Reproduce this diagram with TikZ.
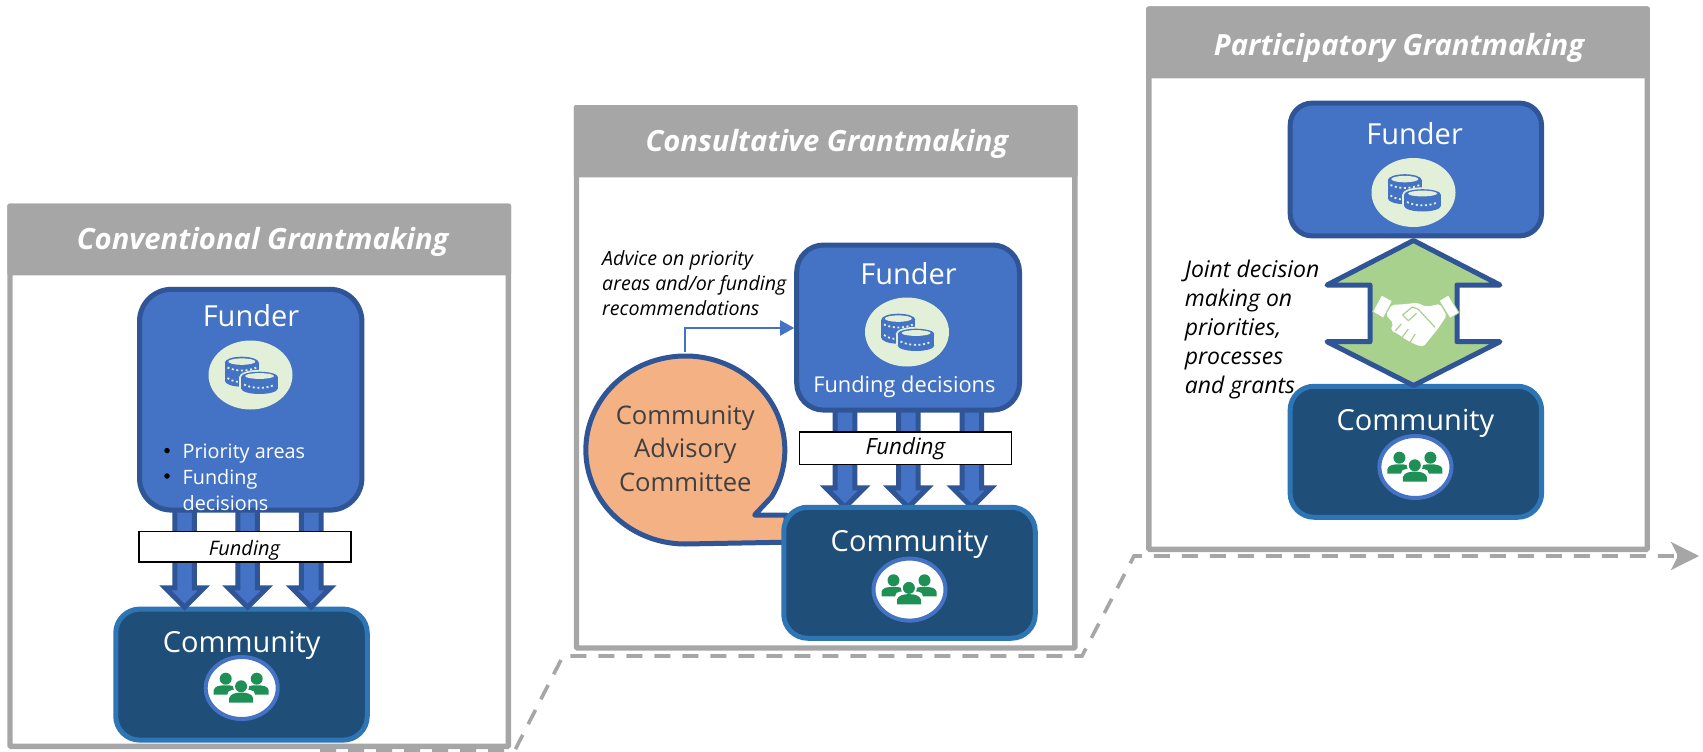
\documentclass[tikz,border=0pt]{standalone}
\usepackage{fontspec}
\setmainfont{Open Sans}
\usetikzlibrary{shapes.geometric, arrows.meta}
\usetikzlibrary{positioning}
\definecolor{framegray}{HTML}{A6A6A6}
\definecolor{funderblue}{HTML}{4472C4}
\definecolor{funderedge}{HTML}{2F5597}
\definecolor{commblue}{HTML}{1F4E79}
\definecolor{commedge}{HTML}{2E75B6}
\definecolor{coinpale}{HTML}{E2F0D9}
\definecolor{peoplegreen}{HTML}{1E8F55}
\definecolor{advisoryfill}{HTML}{F4B183}
\definecolor{shakegreen}{HTML}{A9D18E}
\tikzstyle{panelbox} = [draw=framegray, line width=5.4pt, fill=white, rounded corners=1pt, minimum width=498.4pt, minimum height=540.2pt]
\tikzstyle{headbox} = [fill=framegray, rounded corners=2pt, minimum width=503.8pt]
\tikzstyle{titletext} = [text=white, font=\fontsize{29.2}{35}\selectfont\bfseries\itshape]
\tikzstyle{funderbox} = [draw=funderedge, fill=funderblue, line width=5pt]
\tikzstyle{commbox} = [draw=commedge, fill=commblue, line width=5pt, rounded corners=24pt, minimum width=251.5pt, minimum height=131pt]
\tikzstyle{bigtext} = [text=white, font=\fontsize{29}{35}\selectfont]
\tikzstyle{midtext} = [text=white, font=\fontsize{19.8}{26.2}\selectfont, align=left]
\tikzstyle{coinback} = [ellipse, fill=coinpale, minimum width=84pt, minimum height=69pt, inner sep=0pt]
\tikzstyle{peopleback} = [ellipse, draw=funderblue, fill=white, line width=4pt, minimum width=72pt, minimum height=62pt, inner sep=0pt]
\tikzstyle{fundbox} = [draw=black, fill=white, line width=1.5pt]
\tikzstyle{fundshaft} = [draw=funderedge, fill=funderblue, line width=5pt, line join=miter]
\tikzstyle{notetext} = [text=black, font=\fontsize{19.6}{25}\selectfont\itshape, align=left, inner sep=0pt]
\tikzstyle{dotrow} = [draw=coinpale, line width=1.8pt, dash pattern=on 2pt off 2.6pt]
\tikzset{
  coins/.pic={
    % left stack
    \fill[funderblue] (-25.7,-12.3) rectangle (8.3,5.7);
    \fill[funderblue] (-8.7,-12.3) circle [x radius=17, y radius=6];
    \fill[funderblue] (-8.7,5.7) circle [x radius=17, y radius=6];
    \fill[coinpale] (-8.7,-13.4) circle [x radius=13.5, y radius=3.2];
    \draw[dotrow] (-23,-7.5) .. controls (-15,-3.5) and (-2,-3.5) .. (6,-7.5);
    \draw[dotrow] (-23,3) .. controls (-19,6) and (-14,7) .. (-10,7);
    % right stack
    \fill[coinpale] (9,2) circle [x radius=20.3, y radius=7.2];
    \fill[coinpale] (-11.3,2) rectangle (29.3,13.5);
    \fill[coinpale] (9,13.5) circle [x radius=20.3, y radius=7.2];
    \fill[funderblue] (-9.3,2) rectangle (27.3,13.5);
    \fill[funderblue] (9,2) circle [x radius=18.3, y radius=5.3];
    \fill[funderblue] (9,13.5) circle [x radius=18.3, y radius=5.5];
    \fill[coinpale] (9,1) circle [x radius=14.5, y radius=2.9];
    \draw[dotrow] (-6.5,9.5) .. controls (2,14) and (16,14) .. (24.5,9.5);
  },
  people/.pic={
    \fill[peoplegreen] (-16,-9.3) circle [radius=6];
    \fill[peoplegreen] (15,-9.3) circle [radius=6];
    \fill[peoplegreen] (-28,6.7) -- (-28,2) .. controls (-27,-2) and (-22,-2.7) .. (-16,-2.7) .. controls (-10,-2.7) and (-5,-2) .. (-4,2) -- (-4,6.7) -- cycle;
    \fill[peoplegreen] (27,6.7) -- (27,2) .. controls (26,-2) and (21,-2.7) .. (15,-2.7) .. controls (9,-2.7) and (4,-2) .. (3,2) -- (3,6.7) -- cycle;
    \fill[white] (-0.6,-1.7) circle [radius=8];
    \fill[white, rounded corners=5pt] (-14.5,2) rectangle (13.5,16);
    \fill[peoplegreen] (-0.6,-1.7) circle [radius=6];
    \fill[peoplegreen] (-12.5,14.7) -- (-12.5,10) .. controls (-11.5,6) and (-6,4.5) .. (-0.6,4.5) .. controls (5,4.5) and (10.5,6) .. (11.5,10) -- (11.5,14.7) -- cycle;
  },
  handshake/.pic={
    \fill[white, draw=shakegreen, line width=0.8pt] (-31.7,-25) -- (-21,-19) -- (-30,-1.7) -- (-40.7,-8.3) -- cycle;
    \fill[white, draw=shakegreen, line width=0.8pt] (35,-25) -- (45.7,-7.3) -- (36.7,-1.7) -- (25.7,-19.3) -- cycle;
    \fill[white, rounded corners=2pt] (-21.7,-15) -- (-6.7,-16) -- (3.3,-17.3) -- (13.3,-13.3) -- (26.7,-16) -- (33.3,-4.3) -- (25,8.3) -- (10,26.7) -- (3.3,25) -- (-6.7,20) -- (-15,14.3) -- (-22.7,10) -- (-20,3.3) -- (-27.3,-5) -- cycle;
    \draw[shakegreen, line width=1.2pt, line join=round] (3.3,-6.7) -- (-5,0.7) -- (-10.7,-5) -- (-1,-13) -- (5,-10.7) -- (21.7,7.3);
    \draw[shakegreen, line width=1.2pt] (-12,4) -- (-18,11);
    \draw[shakegreen, line width=1.2pt] (-5,9) -- (-11,17);
    \draw[shakegreen, line width=1.2pt] (2,14) -- (-3,22);
  },
}
\newcommand{\fundarrow}[3]{\draw[fundshaft] (#1-9.8,#2) -- (#1-9.8,#3) -- (#1-19.4,#3) -- (#1,#3+19.4) -- (#1+19.4,#3) -- (#1+9.8,#3) -- (#1+9.8,#2);}
\begin{document}
\begin{tikzpicture}[x=1pt,y=-1pt]
\useasboundingbox (0,0) rectangle (1703,752);
% timeline behind the panels
\coordinate (lineA) at (320,750);
\coordinate (lineB) at (515,750);
\coordinate (lineC) at (563,656);
\coordinate (lineD) at (1082,656);
\coordinate (lineE) at (1134,556);
\coordinate (lineF) at (1677,556);
\coordinate (lineG) at (1699,556);
\draw[framegray, line width=3.6pt, dash pattern=on 16pt off 12pt] (lineA) -- (lineB) -- (lineC) -- (lineD) -- (lineE) -- (lineF);
\draw[framegray, line width=3.6pt, -{Stealth[length=28pt, width=28pt, inset=7pt]}] (lineF) -- (lineG);
% conventional
\node[panelbox] (panelA) at (259.2,476.3) {};
\node[headbox, minimum height=71.7pt] (headA) at (259.2,239.5) {};
\node[titletext] (titleA) at (262.7,242) {Conventional Grantmaking};
\node[commbox] (commA) at (241.5,674.6) {};
\foreach \ax in {184.6,247.6,311.2} {
  \fundarrow{\ax}{505}{587.8}
}
\node[funderbox, rounded corners=32pt, minimum width=222.4pt, minimum height=220.8pt] (funderA) at (250.7,399.7) {};
\node[bigtext] (funderAtext) at (251,316) {Funder};
\node[coinback] (coinA) at (250.5,375) {};
\pic at (coinA) {coins};
\node[circle, fill=black, inner sep=0pt, minimum size=5.5pt] (dotA) at (167,450.6) {};
\node[circle, fill=black, inner sep=0pt, minimum size=5.5pt] (dotB) at (167,476) {};
\node[midtext, anchor=west, inner sep=0pt] (listA) at (182.5,477.5) {Priority areas\\Funding\\decisions};
\node[fundbox, minimum width=212pt, minimum height=30.4pt] (fundA) at (245,546.8) {};
\node[font=\fontsize{20}{24}\selectfont\itshape] (fundAtext) at (244.4,550.5) {Funding};
\node[bigtext] (commAtext) at (241.7,645) {Community};
\node[peopleback] (peopleA) at (241.7,688) {};
\pic at (peopleA) {people};
% consultative
\node[panelbox] (panelB) at (825.7,377.85) {};
\node[headbox, minimum height=72.4pt] (headB) at (825.7,141.2) {};
\node[titletext] (titleB) at (826.9,144) {Consultative Grantmaking};
\foreach \ax in {845,908.3,971.8} {
  \fundarrow{\ax}{405}{487.8}
}
\draw[draw=funderedge, fill=advisoryfill, line width=5pt, line join=round] (754.6,515) -- (771.5,497) arc [start angle=30, end angle=-270, x radius=99.5, y radius=94] -- (786,542.2) -- (786,515) -- cycle;
\node[ellipse, minimum width=204pt, minimum height=193pt, inner sep=0pt, text=black!75, font=\fontsize{25.6}{33.5}\selectfont, align=center] (advisory) at (685.3,448.7) {Community\\Advisory\\Committee};
\node[commbox] (commB) at (909.5,572.75) {};
\node[funderbox, rounded corners=27pt, minimum width=222.8pt, minimum height=165.1pt] (funderB) at (908.1,327.55) {};
\node[bigtext] (funderBtext) at (908.5,274) {Funder};
\node[coinback] (coinB) at (907,332) {};
\pic at (coinB) {coins};
\node[midtext, font=\fontsize{21.8}{26.2}\selectfont] (decisionB) at (904.4,387) {Funding decisions};
\node[fundbox, minimum width=211.7pt, minimum height=32.7pt] (fundB) at (905.5,448.2) {};
\node[font=\fontsize{22.4}{26}\selectfont\itshape] (fundBtext) at (905.4,449) {Funding};
\node[bigtext] (commBtext) at (909.5,544.5) {Community};
\node[peopleback] (peopleB) at (909.5,589.6) {};
\pic at (peopleB) {people};
\node[notetext, anchor=north west] (adviceB) at (602,250.5) {Advice on priority\\areas and/or funding\\recommendations};
\coordinate (advbend) at (685.3,328);
\draw[funderblue, line width=2pt, -{Triangle[length=14pt, width=15pt]}] (advisory.north) -- (advbend) -- (advbend -| funderB.west);
% participatory
\node[panelbox] (panelC) at (1398,279.25) {};
\node[headbox, minimum height=72pt] (headC) at (1398,42.5) {};
\node[titletext] (titleC) at (1399,48) {Participatory Grantmaking};
\node[funderbox, rounded corners=22pt, minimum width=251.3pt, minimum height=132.8pt] (funderC) at (1415.85,169.5) {};
\node[bigtext] (funderCtext) at (1414.6,134) {Funder};
\node[coinback] (coinC) at (1413.5,192.5) {};
\pic at (coinC) {coins};
\node[commbox] (commC) at (1415.85,451.75) {};
\node[bigtext] (commCtext) at (1415.4,423.5) {Community};
\node[peopleback] (peopleC) at (1415.4,467) {};
\pic at (peopleC) {people};
\draw[draw=funderedge, fill=shakegreen, line width=5pt, line join=round] (1413.5,240.5) -- (1500,285) -- (1457,285) -- (1457,341.7) -- (1500,341.7) -- (1413.5,385.5) -- (1327,341.7) -- (1370,341.7) -- (1370,285) -- (1327,285) -- cycle;
\pic at (1413.3,320) {handshake};
\node[notetext, font=\fontsize{23}{29.2}\selectfont\itshape, anchor=north west] (jointC) at (1184.6,259.5) {Joint decision\\making on\\priorities,\\processes\\and grants};
\end{tikzpicture}
\end{document}
